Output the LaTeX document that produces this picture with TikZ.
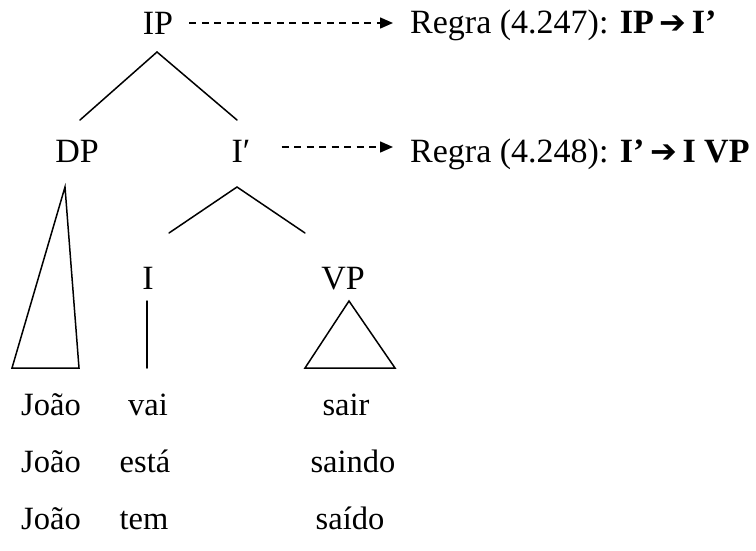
\documentclass[tikz,border=0pt]{standalone}
\usepackage{fontspec}
\setmainfont{Liberation Serif}
\newfontfamily\arrfont{DejaVu Sans}
\usetikzlibrary{arrows.meta}
\begin{document}
\begin{tikzpicture}[x=1pt,y=-1pt,
  lab/.style={inner sep=0pt,anchor=base,font=\fontsize{34}{38}\selectfont},
  word/.style={inner sep=0pt,anchor=base,font=\fontsize{32.5}{38}\selectfont},
  rule/.style={inner sep=0pt,anchor=base west,font=\fontsize{34}{38}\selectfont},
  branch/.style={line width=1.5pt,line cap=round,line join=miter},
  dasharrow/.style={line width=1.5pt,dash pattern=on 7pt off 5.5pt,
    -{Triangle[length=13pt,width=11pt]}}]
\useasboundingbox (0,0) rectangle (756,550);
% labels
\node[lab] (IP) at (158,34) {IP};
\node[lab] (DP) at (77,162) {DP};
\node[lab] (Ib) at (241,162) {I′};
\node[lab] (I) at (148,289) {I};
\node[lab] (VP) at (343,289) {VP};
\node[rule] (R1) at (410,33) {Regra (4.247): \textbf{IP\,{\arrfont\fontsize{32}{38}\selectfont ➔}\,I’}};
\node[rule] (R2) at (410,162) {Regra (4.248): \textbf{I’\,{\arrfont\fontsize{32}{38}\selectfont ➔}\,I VP}};
% rule arrows
\coordinate (y1) at (0,23);
\coordinate (y2) at (0,147);
\draw[dasharrow] ([xshift=16pt]IP.east |- y1) -- ([xshift=-17pt]R1.west |- y1);
\draw[dasharrow] ([xshift=31pt]Ib.east |- y2) -- ([xshift=-17pt]R2.west |- y2);
% IP branches
\coordinate (ipa) at (157,52);
\coordinate (ipl) at (80,120);
\coordinate (ipr) at (237,120);
\draw[branch] (ipl) -- (ipa) -- (ipr);
% I' branches
\coordinate (iba) at (237,187);
\coordinate (ibl) at (169,233);
\coordinate (ibr) at (305,233);
\draw[branch] (ibl) -- (iba) -- (ibr);
% DP triangle
\coordinate (dpa) at (65,187);
\coordinate (dpl) at (12,368);
\coordinate (dpr) at (79,368);
\draw[branch] (dpa) -- (dpl) -- (dpr) -- cycle;
% I line
\coordinate (it) at (147,301);
\coordinate (ib) at (147,368);
\draw[branch] (it) -- (ib);
% VP triangle
\coordinate (vpa) at (349,301);
\coordinate (vpl) at (305,368);
\coordinate (vpr) at (395,368);
\draw[branch] (vpa) -- (vpl) -- (vpr) -- cycle;
% words
\node[word] (j1) at (51,415) {João};
\node[word] (v1) at (148,415) {vai};
\node[word] (s1) at (346,415) {sair};
\node[word] (j2) at (51,472) {João};
\node[word] (v2) at (145,472) {está};
\node[word] (s2) at (353,472) {saindo};
\node[word] (j3) at (51,529) {João};
\node[word] (v3) at (144,529) {tem};
\node[word] (s3) at (350,529) {saído};
\end{tikzpicture}
\end{document}
